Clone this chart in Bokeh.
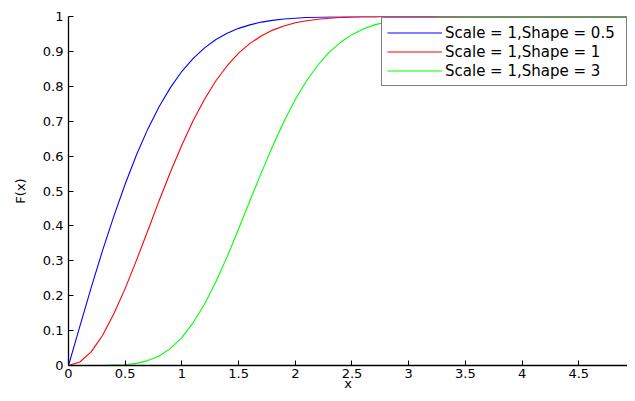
from bokeh.plotting import figure
from bokeh.models import Range1d, FixedTicker, Legend, LegendItem
from bokeh.embed import file_html
from bokeh.resources import INLINE

x_vals = [0.0, 0.1, 0.2, 0.3, 0.4, 0.5, 0.6, 0.7, 0.8, 0.9,
          1.0, 1.1, 1.2, 1.3, 1.4, 1.5, 1.6, 1.7, 1.8, 1.9,
          2.0, 2.1, 2.2, 2.3, 2.4, 2.5, 2.6, 2.7, 2.8, 2.9,
          3.0, 3.1, 3.2, 3.3, 3.4, 3.5, 3.6, 3.7, 3.8, 3.9,
          4.0, 4.1, 4.2, 4.3, 4.4, 4.5, 4.6, 4.7, 4.8, 4.9, 5.0]

shape_05 = [0.0, 0.112, 0.223, 0.329, 0.428, 0.520, 0.604, 0.678, 0.742, 0.797,
            0.843, 0.880, 0.910, 0.934, 0.952, 0.966, 0.976, 0.984, 0.989, 0.993,
            0.995, 0.997, 0.998, 0.999, 0.999, 1.0, 1.0, 1.0, 1.0, 1.0,
            1.0, 1.0, 1.0, 1.0, 1.0, 1.0, 1.0, 1.0, 1.0, 1.0,
            1.0, 1.0, 1.0, 1.0, 1.0, 1.0, 1.0, 1.0, 1.0, 1.0, 1.0]

shape_1 = [0.0, 0.010, 0.039, 0.086, 0.148, 0.221, 0.302, 0.387, 0.473, 0.555,
           0.632, 0.702, 0.763, 0.816, 0.859, 0.895, 0.923, 0.944, 0.961, 0.973,
           0.982, 0.988, 0.992, 0.995, 0.997, 0.998, 0.999, 0.999, 1.0, 1.0,
           1.0, 1.0, 1.0, 1.0, 1.0, 1.0, 1.0, 1.0, 1.0, 1.0,
           1.0, 1.0, 1.0, 1.0, 1.0, 1.0, 1.0, 1.0, 1.0, 1.0, 1.0]

shape_3 = [0.0, 0.0, 0.0, 0.0, 0.001, 0.002, 0.006, 0.014, 0.027, 0.049,
           0.080, 0.123, 0.176, 0.240, 0.312, 0.391, 0.472, 0.552, 0.628, 0.699,
           0.762, 0.816, 0.861, 0.898, 0.926, 0.948, 0.964, 0.976, 0.984, 0.990,
           0.994, 0.996, 0.998, 0.999, 0.999, 1.0, 1.0, 1.0, 1.0, 1.0,
           1.0, 1.0, 1.0, 1.0, 1.0, 1.0, 1.0, 1.0, 1.0, 1.0, 1.0]

series_labels = ["Scale = 1,Shape = 0.5", "Scale = 1,Shape = 1", "Scale = 1,Shape = 3"]
series_colors = ["#0000ff", "#ff0000", "#00ff00"]

x_ticks = [0, 0.5, 1, 1.5, 2, 2.5, 3, 3.5, 4, 4.5, 5]
x_tick_labels = ["0", "0.5", "1", "1.5", "2", "2.5", "3", "3.5", "4", "4.5", "5"]
y_ticks = [0, 0.1, 0.2, 0.3, 0.4, 0.5, 0.6, 0.7, 0.8, 0.9, 1]
y_tick_labels = ["0", "0.1", "0.2", "0.3", "0.4", "0.5", "0.6", "0.7", "0.8", "0.9", "1"]

FONT = "DejaVu Sans"

# The reference is cropped at x = 5 (right edge); keep the same x scale (≈113 px per unit)
p = figure(width=627, height=393, output_backend="svg", toolbar_location=None,
           x_range=Range1d(0, 4.93), y_range=Range1d(0, 1),
           min_border_left=68, min_border_right=0, min_border_top=16, min_border_bottom=27)
p.outline_line_color = None
p.grid.visible = False
p.background_fill_color = "white"
p.border_fill_color = "white"

renderers = []
for ys, c in zip([shape_05, shape_1, shape_3], series_colors):
    r = p.line(x_vals, ys, line_color=c, line_width=1.1)
    renderers.append(r)

p.xaxis.ticker = FixedTicker(ticks=x_ticks)
p.yaxis.ticker = FixedTicker(ticks=y_ticks)
p.xaxis.major_label_overrides = {t: l for t, l in zip(x_ticks, x_tick_labels)}
p.yaxis.major_label_overrides = {t: l for t, l in zip(y_ticks, y_tick_labels)}

for ax in (p.xaxis, p.yaxis):
    ax.axis_line_color = "black"
    ax.axis_line_width = 1.3
    ax.major_tick_line_color = "black"
    ax.major_tick_in = 5
    ax.major_tick_out = 0
    ax.minor_tick_line_color = None
    ax.major_label_text_font = FONT
    ax.major_label_text_font_size = "13px"
    ax.major_label_text_color = "black"
    ax.axis_label_text_font = FONT
    ax.axis_label_text_font_size = "13px"
    ax.axis_label_text_font_style = "normal"
    ax.axis_label_text_color = "black"

p.xaxis.axis_label = "x"
p.yaxis.axis_label = "F(x)"
p.xaxis.major_label_standoff = 3
p.xaxis.axis_label_standoff = -5
p.yaxis.major_label_standoff = 5
p.yaxis.axis_label_standoff = 12

legend = Legend(items=[LegendItem(label=l, renderers=[r]) for l, r in zip(series_labels, renderers)],
                location=(313, 279), orientation="vertical")
legend.label_text_font = FONT
legend.label_text_font_size = "15px"
legend.label_text_color = "black"
legend.glyph_width = 55
legend.glyph_height = 19
legend.label_height = 19
legend.label_width = 176
legend.label_standoff = 3
legend.spacing = 0
legend.padding = 5
legend.margin = 0
legend.border_line_color = "black"
legend.border_line_width = 1.5
legend.background_fill_color = "white"
legend.background_fill_alpha = 1.0
p.add_layout(legend)

open("out.html", "w").write(file_html(p, INLINE))
